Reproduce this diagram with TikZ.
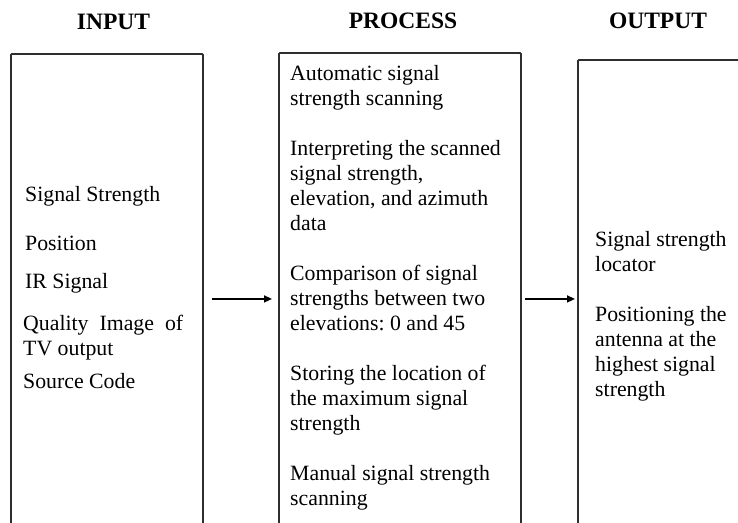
\documentclass[tikz,border=0pt]{standalone}
\usepackage{fontspec}
\setmainfont{Liberation Serif}
\usetikzlibrary{arrows.meta}
\frenchspacing
\begin{document}
\begin{tikzpicture}[x=1pt,y=-1pt,
  box/.style={draw=black!82, line width=1.9pt, rectangle, rounded corners=1pt,
    inner sep=0pt, anchor=north west},
  title/.style={font=\fontsize{23.5}{28}\selectfont\bfseries, anchor=base, inner sep=0pt},
  body/.style={font=\fontsize{21.8}{25}\selectfont, anchor=base west, inner sep=0pt, align=left},
  flow/.style={line width=1.4pt, -{Triangle[length=8pt,width=7pt]}}]
\useasboundingbox (0,0) rectangle (738,522);
\clip (0,0) rectangle (738,522);

% column headings
\node[title] (tin)   at (113.5,29) {INPUT};
\node[title] (tproc) at (403,28)   {PROCESS};
\node[title] (tout)  at (658,28)   {OUTPUT};

% the three columns (open towards the bottom and right edge)
\node[box, minimum width=192pt, minimum height=490pt] (in)   at (10,53)  {};
\node[box, minimum width=242pt, minimum height=492pt] (proc) at (278,52) {};
\node[box, minimum width=200pt, minimum height=478pt] (out)  at (577,59) {};

% inputs (multi-line nodes sit on the baseline of their last line)
\node[body] (i1) at (25,201.7) {Signal Strength};
\node[body] (i2) at (25,250)   {Position};
\node[body] (i3) at (25,288)   {IR Signal};
\node[body] (i4) at (23,355)   {\makebox[160pt][s]{Quality Image of}\\TV output};
\node[body] (i5) at (23,388)   {Source Code};

% process steps
\node[body] (p) at (290,505) {Automatic signal\\strength scanning\\[25pt]
  Interpreting the scanned\\signal strength,\\elevation, and azimuth\\data\\[25pt]
  Comparison of signal\\strengths between two\\elevations: 0 and 45\\[25pt]
  Storing the location of\\the maximum signal\\strength\\[25pt]
  Manual signal strength\\scanning};

% outputs
\node[body] (o) at (595,396.7) {Signal strength\\locator\\[25pt]
  Positioning the\\antenna at the\\highest signal\\strength};

% flow arrows
\draw[flow] ([xshift=8pt]in.east) -- ([xshift=-6pt]proc.west);
\draw[flow] ([xshift=3pt]proc.east) -- ([xshift=-2pt]out.west);
\end{tikzpicture}
\end{document}
